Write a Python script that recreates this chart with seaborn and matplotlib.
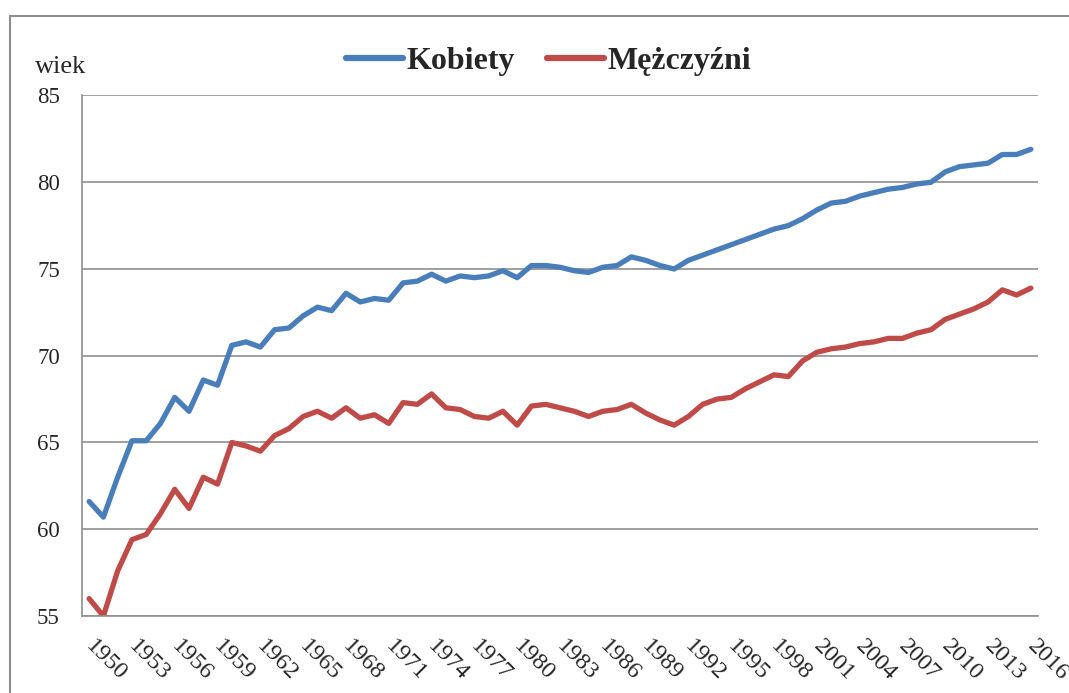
import numpy as np
import pandas as pd
import seaborn as sns
import matplotlib.pyplot as plt
import matplotlib.transforms as mtransforms
from matplotlib.patches import Rectangle

years = list(range(1950, 2017))

kobiety = [
    61.6, 60.7, 63.0, 65.1, 65.1, 66.1, 67.6, 66.8, 68.6, 68.3,
    70.6, 70.8, 70.5, 71.5, 71.6, 72.3, 72.8, 72.6, 73.6, 73.1,
    73.3, 73.2, 74.2, 74.3, 74.7, 74.3, 74.6, 74.5, 74.6, 74.9,
    74.5, 75.2, 75.2, 75.1, 74.9, 74.8, 75.1, 75.2, 75.7, 75.5,
    75.2, 75.0, 75.5, 75.8, 76.1, 76.4, 76.7, 77.0, 77.3, 77.5,
    77.9, 78.4, 78.8, 78.9, 79.2, 79.4, 79.6, 79.7, 79.9, 80.0,
    80.6, 80.9, 81.0, 81.1, 81.6, 81.6, 81.9,
]

mezczyzni = [
    56.0, 55.0, 57.6, 59.4, 59.7, 60.9, 62.3, 61.2, 63.0, 62.6,
    65.0, 64.8, 64.5, 65.4, 65.8, 66.5, 66.8, 66.4, 67.0, 66.4,
    66.6, 66.1, 67.3, 67.2, 67.8, 67.0, 66.9, 66.5, 66.4, 66.8,
    66.0, 67.1, 67.2, 67.0, 66.8, 66.5, 66.8, 66.9, 67.2, 66.7,
    66.3, 66.0, 66.5, 67.2, 67.5, 67.6, 68.1, 68.5, 68.9, 68.8,
    69.7, 70.2, 70.4, 70.5, 70.7, 70.8, 71.0, 71.0, 71.3, 71.5,
    72.1, 72.4, 72.7, 73.1, 73.8, 73.5, 73.9,
]

series_names = ["Kobiety", "Mężczyźni"]
colors = ["#4A7EBB", "#BE4B48"]
y_ticks = [55, 60, 65, 70, 75, 80, 85]
x_ticks = list(range(1950, 2017, 3))

df = pd.concat([
    pd.DataFrame({"rok": years, "wiek": kobiety, "płeć": series_names[0]}),
    pd.DataFrame({"rok": years, "wiek": mezczyzni, "płeć": series_names[1]}),
])

sns.set_style("white")
plt.rcParams["font.family"] = ["Liberation Serif", "DejaVu Serif"]

fig = plt.figure(figsize=(10.69, 6.93), dpi=100)
ax = fig.add_axes([82 / 1069, 1 - 616 / 693, 956 / 1069, 520.5 / 693])

sns.lineplot(data=df, x="rok", y="wiek", hue="płeć", palette=colors,
             linewidth=3.8, ax=ax, legend=True)

ax.set_xlim(1949.5, 2016.5)
ax.set_ylim(55, 85)
ax.set_yticks(y_ticks)
ax.set_xticks(x_ticks)
ax.set_xticklabels([str(y) for y in x_ticks], rotation=-45, ha="left",
                   va="top", rotation_mode="anchor")
ax.tick_params(axis="x", length=0, pad=14, labelsize=17.5)
ax.tick_params(axis="y", length=0, pad=16, labelsize=16.5)
ax.set_xlabel("")
ax.set_ylabel("")

# przesunięcie etykiet lat w prawo
shift = mtransforms.ScaledTranslation(0.07, 0, fig.dpi_scale_trans)
for lbl in ax.get_xticklabels():
    lbl.set_transform(lbl.get_transform() + shift)

ax.grid(axis="y", color="#8f8f8f", linewidth=1.2)
ax.set_axisbelow(True)
for side in ["top", "right"]:
    ax.spines[side].set_visible(False)
for side in ["left", "bottom"]:
    ax.spines[side].set_color("#8f8f8f")
    ax.spines[side].set_linewidth(1.2)

handles, labels = ax.get_legend_handles_labels()
ax.legend_.remove()
leg = fig.legend(handles, labels, loc="center", bbox_to_anchor=(0.513, 0.911),
                 ncol=2, frameon=False, handlelength=1.8, handletextpad=0.1,
                 columnspacing=1.0, prop={"size": 23, "weight": "bold"})
for line in leg.get_lines():
    line.set_linewidth(4.5)

fig.text(35 / 1069, 1 - 73 / 693, "wiek", fontsize=19, ha="left", va="baseline")

# ramka wykresu
fig.patches.append(Rectangle((9.5 / 1069, -0.05), 1.2, 0.05 + 1 - 15.5 / 693,
                             transform=fig.transFigure, fill=False,
                             edgecolor="#8f8f8f", linewidth=1.5))

fig.savefig("out.png", dpi=100)
